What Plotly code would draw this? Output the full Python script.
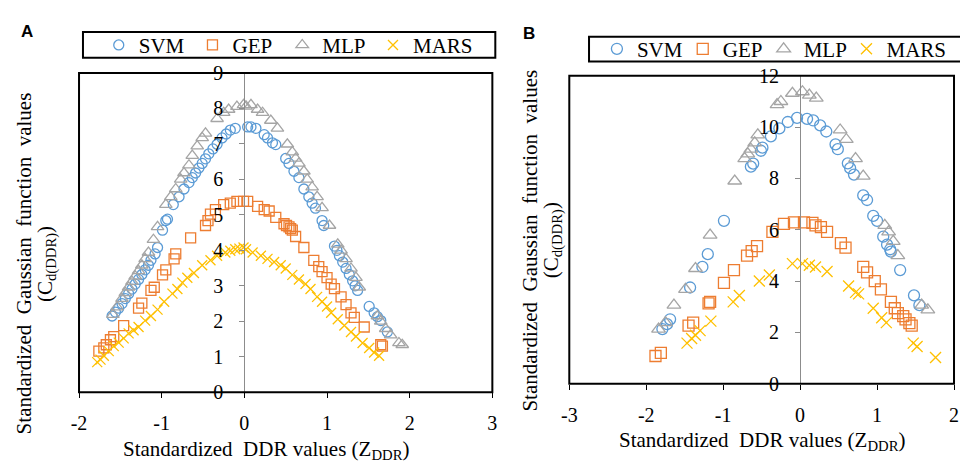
import plotly.graph_objects as go

W, H = 960, 470

# ---------------- Panel A data ----------------
a_svm_x = [-1.60, -1.56, -1.52, -1.48, -1.44, -1.40, -1.36, -1.32, -1.28, -1.24, -1.20, -1.16, -1.13, -1.08, -1.05,
           -0.99, -0.95, -0.93, -0.86, -0.79, -0.73, -0.67, -0.63, -0.59, -0.55, -0.51, -0.47, -0.43, -0.38, -0.33,
           -0.27, -0.22, -0.17, -0.11, 0.04, 0.08, 0.14, 0.24, 0.28, 0.34, 0.38, 0.50, 0.54, 0.60, 0.66, 0.72, 0.78,
           0.82, 0.86, 0.94, 0.96, 1.09, 1.12, 1.15, 1.19, 1.23, 1.27, 1.31, 1.34, 1.37, 1.51, 1.57, 1.61, 1.65, 1.73]
a_svm_y = [2.15, 2.26, 2.37, 2.50, 2.64, 2.78, 2.91, 3.05, 3.18, 3.32, 3.45, 3.58, 3.72, 3.90, 4.08,
           4.57, 4.84, 4.88, 5.29, 5.51, 5.73, 5.91, 6.05, 6.18, 6.32, 6.45, 6.58, 6.72, 6.86, 6.99,
           7.17, 7.28, 7.39, 7.44, 7.48, 7.48, 7.44, 7.26, 7.17, 7.03, 6.98, 6.59, 6.45, 6.23, 6.05, 5.73, 5.51,
           5.33, 5.19, 4.84, 4.70, 4.12, 4.00, 3.85, 3.67, 3.49, 3.32, 3.14, 3.00, 2.87, 2.42, 2.24, 2.13, 2.02, 1.70]

a_gep_x = [-1.76, -1.70, -1.67, -1.62, -1.58, -1.46, -1.28, -1.24, -1.13, -1.09, -0.99, -0.95, -0.85, -0.83,
           -0.65, -0.47, -0.44, -0.41, -0.35, -0.25, -0.17, -0.09, -0.01, 0.04, 0.16, 0.24, 0.30, 0.38, 0.48,
           0.51, 0.54, 0.56, 0.58, 0.62, 0.72, 0.84, 0.90, 0.94, 1.00, 1.05, 1.09, 1.17, 1.23, 1.29, 1.33,
           1.45, 1.65, 1.67]
a_gep_y = [1.16, 1.25, 1.34, 1.48, 1.57, 1.88, 2.37, 2.51, 2.87, 2.96, 3.31, 3.45, 3.76, 3.90,
           4.35, 4.70, 4.84, 5.02, 5.15, 5.29, 5.33, 5.38, 5.38, 5.38, 5.24, 5.15, 5.11, 4.93, 4.75,
           4.70, 4.66, 4.61, 4.57, 4.39, 4.08, 3.72, 3.54, 3.40, 3.23, 3.05, 2.92, 2.69, 2.47, 2.24, 2.11,
           1.84, 1.34, 1.30]

a_mlp_x = [-1.59, -1.54, -1.48, -1.44, -1.40, -1.36, -1.32, -1.28, -1.24, -1.20, -1.16, -1.10, -1.05, -0.95,
           -0.89, -0.83, -0.77, -0.73, -0.67, -0.63, -0.57, -0.51, -0.47, -0.33, -0.25, -0.19, -0.09, -0.01,
           0.02, 0.08, 0.16, 0.22, 0.32, 0.40, 0.52, 0.58, 0.62, 0.66, 0.72, 0.76, 0.82, 0.88, 0.94, 1.03,
           1.13, 1.17, 1.23, 1.29, 1.35, 1.39, 1.61, 1.65, 1.71, 1.77, 1.87, 1.91]
a_mlp_y = [2.19, 2.40, 2.64, 2.80, 2.96, 3.12, 3.27, 3.42, 3.58, 3.76, 3.94, 4.30, 4.66, 5.29,
           5.51, 5.73, 6.00, 6.18, 6.40, 6.67, 6.94, 7.17, 7.30, 7.71, 7.88, 7.97, 8.05, 8.10,
           8.06, 8.10, 7.97, 7.88, 7.66, 7.44, 6.99, 6.77, 6.59, 6.45, 6.23, 6.00, 5.78, 5.51, 5.20, 4.70,
           4.17, 4.00, 3.76, 3.49, 3.23, 2.96, 2.15, 2.00, 1.79, 1.61, 1.39, 1.34]

a_mars_x = [-1.78, -1.74, -1.70, -1.64, -1.58, -1.52, -1.46, -1.40, -1.34, -1.28, -1.20, -1.13, -1.05, -0.97,
            -0.87, -0.81, -0.75, -0.69, -0.61, -0.51, -0.41, -0.33, -0.23, -0.17, -0.11, -0.06, -0.01,
            0.02, 0.10, 0.20, 0.28, 0.36, 0.44, 0.50, 0.58, 0.66, 0.74, 0.80, 0.88, 0.94, 1.00, 1.05, 1.13,
            1.21, 1.29, 1.35, 1.43, 1.51, 1.57, 1.63]
a_mars_y = [0.85, 0.92, 1.03, 1.16, 1.30, 1.40, 1.52, 1.66, 1.75, 1.84, 2.02, 2.15, 2.33, 2.55,
            2.78, 2.91, 3.09, 3.23, 3.36, 3.58, 3.72, 3.85, 3.94, 3.99, 4.03, 4.05, 4.08,
            4.03, 3.94, 3.85, 3.76, 3.67, 3.58, 3.49, 3.31, 3.18, 3.05, 2.91, 2.69, 2.55, 2.42, 2.24, 2.06,
            1.88, 1.70, 1.57, 1.39, 1.25, 1.12, 1.03]

# ---------------- Panel B data ----------------
b_svm_x = [-1.79, -1.73, -1.69, -1.43, -1.27, -1.20, -0.99, -0.64, -0.61, -0.51, -0.49, -0.38, -0.27, -0.16,
           -0.04, 0.09, 0.17, 0.26, 0.34, 0.46, 0.49, 0.62, 0.65, 0.70, 0.82, 0.87, 0.95, 1.00, 1.08, 1.13,
           1.17, 1.18, 1.30, 1.48, 1.55]
b_svm_y = [2.13, 2.32, 2.51, 3.75, 4.55, 5.05, 6.35, 8.46, 8.58, 9.08, 9.20, 9.64, 9.95, 10.20,
           10.36, 10.32, 10.26, 10.07, 9.83, 9.33, 9.14, 8.59, 8.40, 8.15, 7.34, 7.16, 6.54, 6.35, 5.73, 5.42,
           5.24, 5.15, 4.43, 3.44, 3.06]

b_gep_x = [-1.88, -1.81, -1.45, -1.39, -1.19, -1.17, -0.99, -0.86, -0.69, -0.63, -0.56, -0.36, -0.21, -0.08,
           0.05, 0.16, 0.20, 0.27, 0.35, 0.53, 0.59, 0.82, 0.87, 0.97, 1.05, 1.18, 1.23, 1.27, 1.34, 1.37,
           1.42, 1.45]
b_gep_y = [1.08, 1.20, 2.26, 2.38, 3.13, 3.19, 3.93, 4.43, 4.99, 5.17, 5.36, 5.92, 6.23, 6.29,
           6.29, 6.27, 6.17, 6.10, 5.92, 5.48, 5.30, 4.55, 4.34, 4.00, 3.68, 3.19, 2.94, 2.75, 2.63, 2.51,
           2.36, 2.26]

b_mlp_x = [-1.84, -1.75, -1.64, -1.49, -1.36, -1.17, -0.85, -0.72, -0.68, -0.64, -0.59, -0.55, -0.30, -0.25,
           -0.10, 0.03, 0.12, 0.21, 0.52, 0.60, 0.72, 0.82, 1.10, 1.15, 1.21, 1.27, 1.58, 1.66]
b_mlp_y = [2.13, 2.38, 3.06, 3.68, 4.49, 5.79, 7.90, 8.77, 8.96, 9.14, 9.39, 9.70, 10.88, 11.00,
           11.32, 11.38, 11.25, 11.13, 9.89, 9.52, 8.77, 8.09, 6.17, 5.92, 5.55, 4.99, 3.06, 2.88]

b_mars_x = [-1.47, -1.41, -1.36, -1.30, -1.16, -0.87, -0.79, -0.53, -0.40, -0.10, 0.03, 0.12, 0.20, 0.35,
            0.63, 0.72, 0.76, 0.95, 1.06, 1.12, 1.47, 1.52, 1.76]
b_mars_y = [1.58, 1.76, 1.89, 2.07, 2.44, 3.19, 3.44, 4.00, 4.24, 4.68, 4.68, 4.62, 4.55, 4.37,
            3.81, 3.56, 3.50, 2.94, 2.57, 2.38, 1.58, 1.45, 1.02]

model_names = ["SVM", "GEP", "MLP", "MARS"]
a_ticks_x = [-2, -1, 0, 1, 2, 3]
a_ticks_y = list(range(0, 10))
b_ticks_x = [-3, -2, -1, 0, 1, 2]
b_ticks_y = list(range(0, 13, 2))
a_range_x, a_range_y = [-2, 3], [0, 9]
b_range_x, b_range_y = [-3, 2], [0, 12]

colors = {"SVM": "#5B9BD5", "GEP": "#ED7D31", "MLP": "#A5A5A5", "MARS": "#FFC000"}
symbols = {"SVM": "circle-open", "GEP": "square-open", "MLP": "triangle-up-open", "MARS": "x-thin-open"}
sizes_a = {"SVM": 10, "GEP": 10, "MLP": 11, "MARS": 10}
sizes_b = {"SVM": 11, "GEP": 11, "MLP": 12, "MARS": 11}

SERIF = "Liberation Serif"
SANS = "Liberation Sans"

def px_x(p):
    return p / W

def px_y(p):
    return 1 - p / H

# plot-area boxes in pixels (left, top, right, bottom)
boxA = (72, 65, 491, 400)
boxB = (569, 68, 959, 391)

# legend entry positions (pixel x of entry start), one legend per entry
legend_pos_a = {"SVM": 92, "GEP": 187, "MLP": 278, "MARS": 370}
legend_pos_b = {"SVM": 597, "GEP": 684, "MLP": 766, "MARS": 850}
legend_y_a, legend_y_b = 36, 40

fig = go.Figure()

a_data = {"SVM": (a_svm_x, a_svm_y), "GEP": (a_gep_x, a_gep_y),
          "MLP": (a_mlp_x, a_mlp_y), "MARS": (a_mars_x, a_mars_y)}
b_data = {"SVM": (b_svm_x, b_svm_y), "GEP": (b_gep_x, b_gep_y),
          "MLP": (b_mlp_x, b_mlp_y), "MARS": (b_mars_x, b_mars_y)}

legend_layout = {}
lg_index = 1
for panel, data, sizes, xa, ya, lpos, ly in (
        ("A", a_data, sizes_a, "x", "y", legend_pos_a, legend_y_a),
        ("B", b_data, sizes_b, "x2", "y2", legend_pos_b, legend_y_b)):
    for name in model_names:
        xs, ys = data[name]
        lname = "legend" if lg_index == 1 else f"legend{lg_index}"
        fig.add_trace(go.Scatter(
            x=xs, y=ys, mode="markers", name=name, xaxis=xa, yaxis=ya, legend=lname,
            marker=dict(symbol=symbols[name], size=sizes[name], color=colors[name],
                        line=dict(width=1.3, color=colors[name])),
            cliponaxis=False))
        legend_layout[lname] = dict(
            orientation="h", x=px_x(lpos[name]), xanchor="left", y=px_y(ly), yanchor="middle",
            font=dict(family=SERIF, size=21, color="black"), bgcolor="rgba(0,0,0,0)",
            borderwidth=0)
        lg_index += 1

def zero_pos(box, rng):
    d0, d1 = px_x(box[0]), px_x(box[2])
    return d0 + (0 - rng[0]) / (rng[1] - rng[0]) * (d1 - d0)

tickfont = dict(family=SERIF, size=20, color="black")

xcommon = dict(showgrid=False, zeroline=False, showline=False, ticks="outside", ticklen=5,
               tickcolor="black", tickwidth=1.2, tickfont=tickfont, ticklabelstandoff=8)
ycommon = dict(showgrid=False, zeroline=False, showline=True, linecolor="#8c8c8c", linewidth=1.2,
               ticks="outside", ticklen=5, tickcolor="#8c8c8c", tickwidth=1.2, tickfont=tickfont,
               ticklabelstandoff=12)

fig.update_layout(
    width=W, height=H, margin=dict(l=0, r=0, t=0, b=0, pad=0),
    paper_bgcolor="white", plot_bgcolor="white",
    xaxis=dict(domain=[px_x(boxA[0]), px_x(boxA[2])], range=a_range_x, tickvals=a_ticks_x,
               ticktext=[str(v) for v in a_ticks_x], anchor="y", **xcommon),
    yaxis=dict(domain=[px_y(boxA[3]), px_y(boxA[1])], range=a_range_y, tickvals=a_ticks_y,
               ticktext=[str(v) for v in a_ticks_y],
               anchor="free", position=zero_pos(boxA, a_range_x), **ycommon),
    xaxis2=dict(domain=[px_x(boxB[0]), px_x(boxB[2])], range=b_range_x, tickvals=b_ticks_x,
                ticktext=[str(v) for v in b_ticks_x], anchor="y2", **xcommon),
    yaxis2=dict(domain=[px_y(boxB[3]), px_y(boxB[1])], range=b_range_y, tickvals=b_ticks_y,
                ticktext=[str(v) for v in b_ticks_y],
                anchor="free", position=zero_pos(boxB, b_range_x), **ycommon),
    showlegend=True,
    **legend_layout,
)

# plot-area borders and legend boxes
shapes = []
for xr, yr in (("x domain", "y domain"), ("x2 domain", "y2 domain")):
    shapes.append(dict(type="rect", xref=xr, yref=yr, x0=0, x1=1, y0=0, y1=1,
                       line=dict(color="black", width=2), fillcolor="rgba(0,0,0,0)", layer="above"))
shapes.append(dict(type="rect", xref="paper", yref="paper", x0=px_x(76), x1=px_x(494),
                   y0=px_y(49), y1=px_y(22), line=dict(color="black", width=2)))
shapes.append(dict(type="rect", xref="paper", yref="paper", x0=px_x(589), x1=px_x(975),
                   y0=px_y(53), y1=px_y(27), line=dict(color="black", width=2)))
fig.update_layout(shapes=shapes)

title_font = dict(family=SERIF, size=21, color="black")
ann = []
def add_text(text, x, y, font, angle=0):
    ann.append(dict(text=text, x=px_x(x), y=px_y(y), xref="paper", yref="paper",
                    xanchor="center", yanchor="middle", showarrow=False, textangle=angle,
                    font=font))

letter_font = dict(family=SANS, size=17, color="black")
add_text("<b>A</b>", 19, 22, letter_font)
add_text("<b>B</b>", 528, 24, letter_font)
add_text("Standardized  DDR values (Z<sub>DDR</sub>)", 262, 461, title_font)
add_text("Standardized  DDR values (Z<sub>DDR</sub>)", 764, 451, title_font)
for (x1, x2, yc) in ((16, 39, 265), (529, 552, 241)):
    add_text("Standardized  Gaussian  function  values", x1, yc, title_font, -90)
    add_text("(C<sub>d(DDR)</sub>)", x2, yc, title_font, -90)
fig.update_layout(annotations=ann)

fig.write_html("out.html")
